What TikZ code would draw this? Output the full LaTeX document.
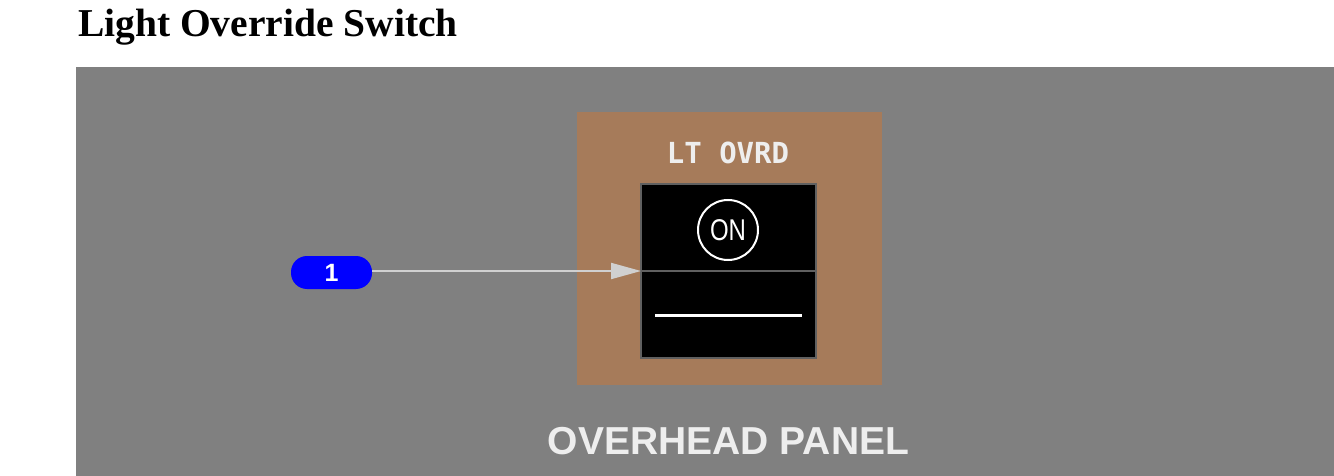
\documentclass[tikz,border=0pt]{standalone}
\usepackage{fontspec}
\setmainfont{Liberation Serif}
\setsansfont{Liberation Sans}
\newfontfamily\panelmono{DejaVu Sans Mono}
\usetikzlibrary{calc,positioning,arrows.meta}
\definecolor{ohgray}{RGB}{128,128,128}
\definecolor{ohbrown}{RGB}{166,123,90}
\definecolor{ohrim}{RGB}{96,96,96}
\definecolor{ohlead}{RGB}{208,208,208}
\definecolor{ohtext}{RGB}{238,238,238}
\definecolor{ohblue}{RGB}{0,0,255}
\tikzset{
  panelfill/.style={fill=ohgray,draw=none},
  legendfont/.style={font=\panelmono\bfseries\fontsize{29}{31}\selectfont,text=ohtext},
  switchbox/.style={fill=black,draw=ohrim,line width=2pt},
  calloutbadge/.style={fill=ohblue,text=white,rounded corners=16pt,minimum width=81pt,
    minimum height=33pt,inner sep=0pt,font=\sffamily\bfseries\fontsize{25}{27}\selectfont},
  leadline/.style={draw=ohlead,line width=2pt,-{Triangle[length=30pt,width=16pt]}},
}
\begin{document}
\begin{tikzpicture}[x=1pt,y=-1pt]
        \useasboundingbox (0,0) rectangle (1334,476);
        \fill[white] (0,0) rectangle (1334,476);
        \node[anchor=base west,inner sep=0pt,font=\bfseries\fontsize{39.5}{42}\selectfont] (title) at (78,37) {Light Override Switch};
        \fill[panelfill] (76,67) rectangle (1334,476);
        % switch housing
        \fill[ohbrown] (577,112) rectangle (882,385);
        \node[legendfont,anchor=base] (legend) at (728,164) {LT OVRD};
        \draw[switchbox] (641,184) rectangle (816,358);
        \draw[ohrim,line width=2pt] (641,271) -- (816,271);
        \node[circle,draw=white,line width=2pt,minimum size=60pt,inner sep=0pt,text=white,
          font=\sffamily\fontsize{30}{32}\selectfont] (on) at (728,230) {\scalebox{0.8}[1]{ON}};
        \draw[white,line width=3pt] (655,315) -- (802,315);
        % callout
        \node[calloutbadge] (badge) at (331.5,272.5) {1};
        \coordinate (divl) at (641,271);
        \draw[leadline] (badge.east |- divl) -- (divl);
        \node[font=\sffamily\bfseries\fontsize{39}{42}\selectfont,text=ohtext,anchor=base] (panel) at (728.5,454) {OVERHEAD PANEL};
      \end{tikzpicture}
\end{document}
